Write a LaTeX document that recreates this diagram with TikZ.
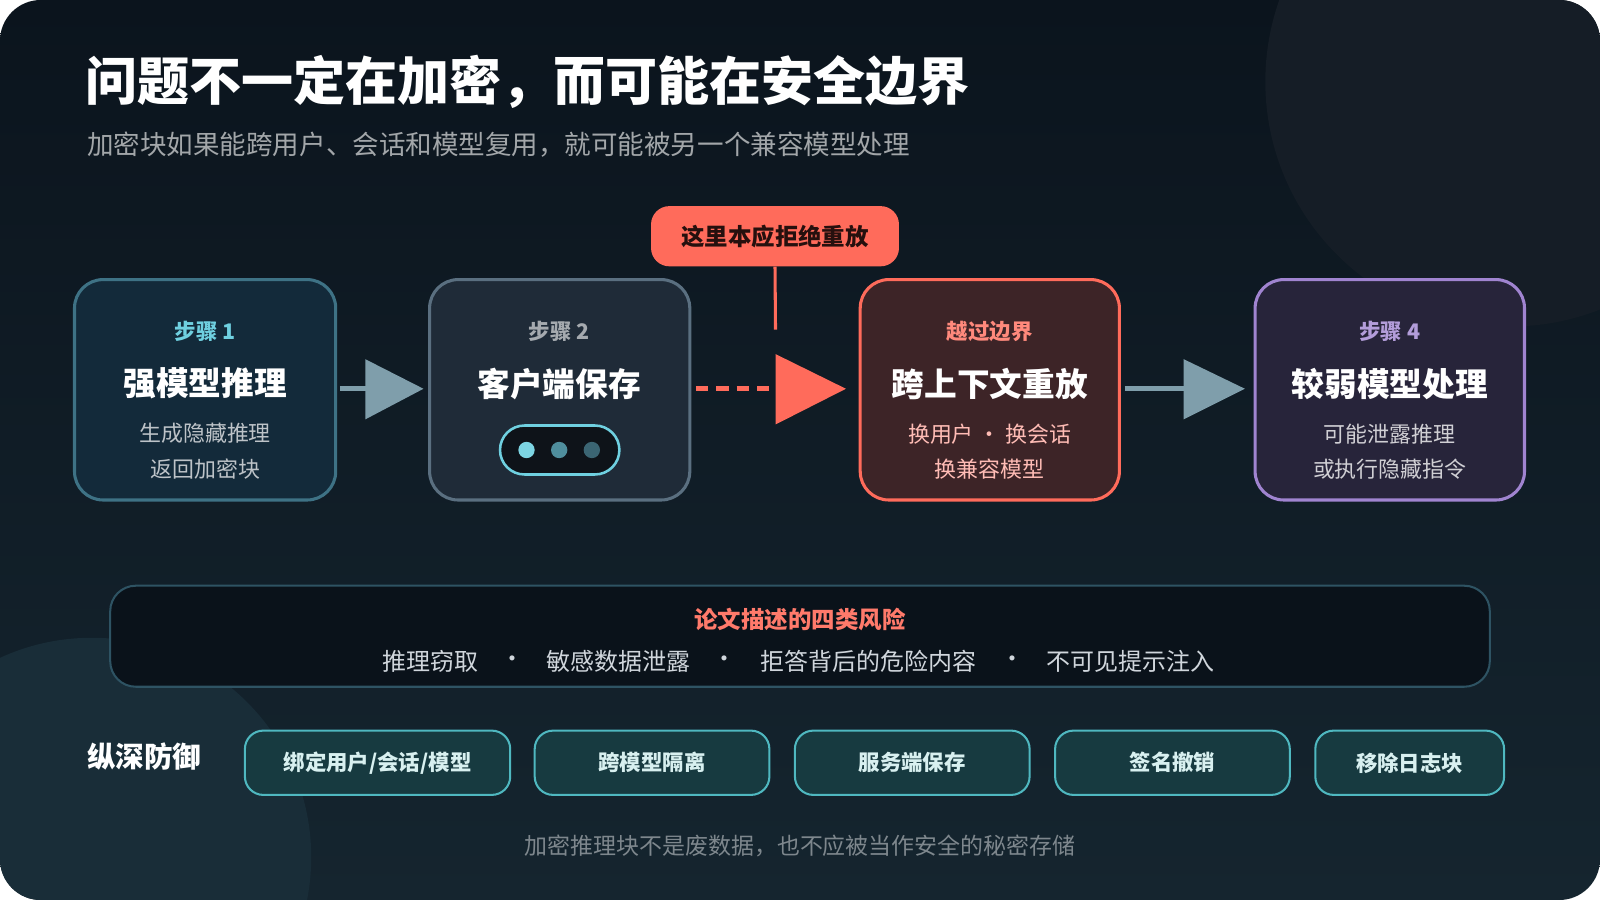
\documentclass[tikz,border=0pt]{standalone}
\usepackage{fontspec}
\setmainfont{Noto Sans CJK SC}
\begin{document}
\begin{tikzpicture}[x=1pt,y=1pt,
  box/.style={draw,line width=3pt,rounded corners=28pt},
  pill/.style={draw=cP,fill=fP,line width=2pt,rounded corners=18pt,minimum height=63pt,font=\fontsize{21}{24}\selectfont\bfseries,text=tP,anchor=center},
  lbl/.style={font=\fontsize{21}{24}\selectfont\bfseries,anchor=center},
  big/.style={font=\fontsize{32}{36}\selectfont\bfseries,text=white,anchor=center},
  sub/.style={font=\fontsize{21.5}{24}\selectfont,anchor=center},
  risk/.style={font=\fontsize{23.5}{26}\selectfont,text=cR,anchor=center}]
\definecolor{bgA}{HTML}{0B141D}\definecolor{bgB}{HTML}{15252F}
\definecolor{cA}{HTML}{3E7285}\definecolor{fA}{HTML}{132A3A}
\definecolor{cB}{HTML}{5A6F80}\definecolor{fB}{HTML}{1F2B38}
\definecolor{red}{HTML}{FF6B5B}\definecolor{fC}{HTML}{3D2427}
\definecolor{cD}{HTML}{A084D0}\definecolor{fD}{HTML}{27243A}
\definecolor{gA}{HTML}{7F9EAB}\definecolor{cyan}{HTML}{6FD0E0}
\definecolor{cP}{HTML}{4FB8C0}\definecolor{fP}{HTML}{173A40}\definecolor{tP}{HTML}{D8F0F0}
\definecolor{cR}{HTML}{D0D6DC}
\useasboundingbox (0,0) rectangle (1568,-882);
\fill[white] (0,0) rectangle (1568,-882);
\begin{scope}
\clip[rounded corners=40pt] (0,0) rectangle (1568,-882);
\shade[top color=bgA,bottom color=bgB] (0,0) rectangle (1568,-882);
\fill[fill=white!4!bgA] (1480,-80) circle (240);
\fill[fill=cA!10!bgB] (90,-840) circle (215);
\end{scope}
\node[anchor=west,font=\fontsize{51}{56}\selectfont\bfseries,text=white] (title) at (80,-80) {问题不一定在加密，而可能在安全边界};
\node[anchor=west,font=\fontsize{26}{30}\selectfont,text=white!62!bgA] (subt) at (82,-142) {加密块如果能跨用户、会话和模型复用，就可能被另一个兼容模型处理};
% boxes
\draw[box,draw=cA,fill=fA] (73,-274) rectangle (329,-490);
\node[lbl,text=cyan] (s1) at (201,-325) {步骤 1};
\node[big] (t1) at (201,-376) {强模型推理};
\node[sub,text=white!72!fA] (a1) at (201,-425) {生成隐藏推理};
\node[sub,text=white!72!fA] (b1) at (201,-460) {返回加密块};
\draw[box,draw=cB,fill=fB] (421,-274) rectangle (676,-490);
\node[lbl,text=white!60!fB] (s2) at (548,-325) {步骤 2};
\node[big] (t2) at (548,-376) {客户端保存};
\draw[draw=cyan,fill=black!55!fB,line width=2.5pt,rounded corners=24pt] (490,-417) rectangle (607,-465);
\fill[fill=cyan!90!white] (516,-441) circle (8);
\fill[fill=cyan!60!fB] (548,-441) circle (8);
\fill[fill=cyan!35!fB] (580,-441) circle (8);
\draw[box,draw=red,fill=fC] (843,-274) rectangle (1097,-490);
\node[lbl,text=red!80!white] (s3) at (970,-325) {越过边界};
\node[big] (t3) at (970,-376) {跨上下文重放};
\node[sub,text=red!45!white] (a3) at (970,-425) {换用户 · 换会话};
\node[sub,text=red!45!white] (b3) at (970,-460) {换兼容模型};
\draw[box,draw=cD,fill=fD] (1230,-274) rectangle (1494,-490);
\node[lbl,text=cD!80!white] (s4) at (1362,-325) {步骤 4};
\node[big] (t4) at (1362,-376) {较弱模型处理};
\node[sub,text=white!78!fD] (a4) at (1362,-425) {可能泄露推理};
\node[sub,text=white!78!fD] (b4) at (1362,-460) {或执行隐藏指令};
% arrows
\coordinate (e1) at (333,-381);\coordinate (h1) at (360,-381);
\draw[gA,line width=5pt] (e1) -- (h1);
\fill[gA] (358,-352) -- (415,-381) -- (358,-411) -- cycle;
\coordinate (e2) at (682,-381);\coordinate (h2) at (762,-381);
\draw[red,line width=5pt,dash pattern=on 12pt off 8pt] (e2) -- (h2);
\fill[red] (760,-347) -- (829,-381) -- (760,-416) -- cycle;
\coordinate (e3) at (1102,-381);\coordinate (h3) at (1163,-381);
\draw[gA,line width=5pt] (e3) -- (h3);
\fill[gA] (1160,-352) -- (1220,-381) -- (1160,-411) -- cycle;
% callout
\node[fill=red,rounded corners=18pt,minimum width=243pt,minimum height=59pt,font=\fontsize{23}{26}\selectfont\bfseries,text=black!85!red] (call) at (759.5,-231.5) {这里本应拒绝重放};
\coordinate (cp) at (760,-323);
\draw[red,line width=3pt] (call.south) -- (cp);
% risk box
\draw[draw=cA!60!bgB,fill=black!12!bgA,line width=2pt,rounded corners=25pt] (108,-574) rectangle (1460,-673);
\node[lbl,text=red!90!white,font=\fontsize{23}{26}\selectfont\bfseries] (rt) at (784,-607) {论文描述的四类风险};
\node[risk] (r1) at (422,-648) {推理窃取};
\node[risk] (d1) at (502,-648) {·};
\node[risk] (r2) at (606,-648) {敏感数据泄露};
\node[risk] (d2) at (710,-648) {·};
\node[risk] (r3) at (851,-648) {拒答背后的危险内容};
\node[risk] (d3) at (992,-648) {·};
\node[risk] (r4) at (1108,-648) {不可见提示注入};
% defenses
\node[anchor=west,font=\fontsize{28}{30}\selectfont\bfseries,text=white] (def) at (82,-741) {纵深防御};
\node[pill,minimum width=260pt] (p1) at (370,-747.5) {绑定用户/会话/模型};
\node[pill,minimum width=230pt] (p2) at (639,-747.5) {跨模型隔离};
\node[pill,minimum width=230pt] (p3) at (894,-747.5) {服务端保存};
\node[pill,minimum width=230pt] (p4) at (1149,-747.5) {签名撤销};
\node[pill,minimum width=185pt] (p5) at (1381.5,-747.5) {移除日志块};
\node[font=\fontsize{22.5}{26}\selectfont,text=white!45!bgB] (foot) at (784,-829) {加密推理块不是废数据，也不应被当作安全的秘密存储};
\end{tikzpicture}
\end{document}
